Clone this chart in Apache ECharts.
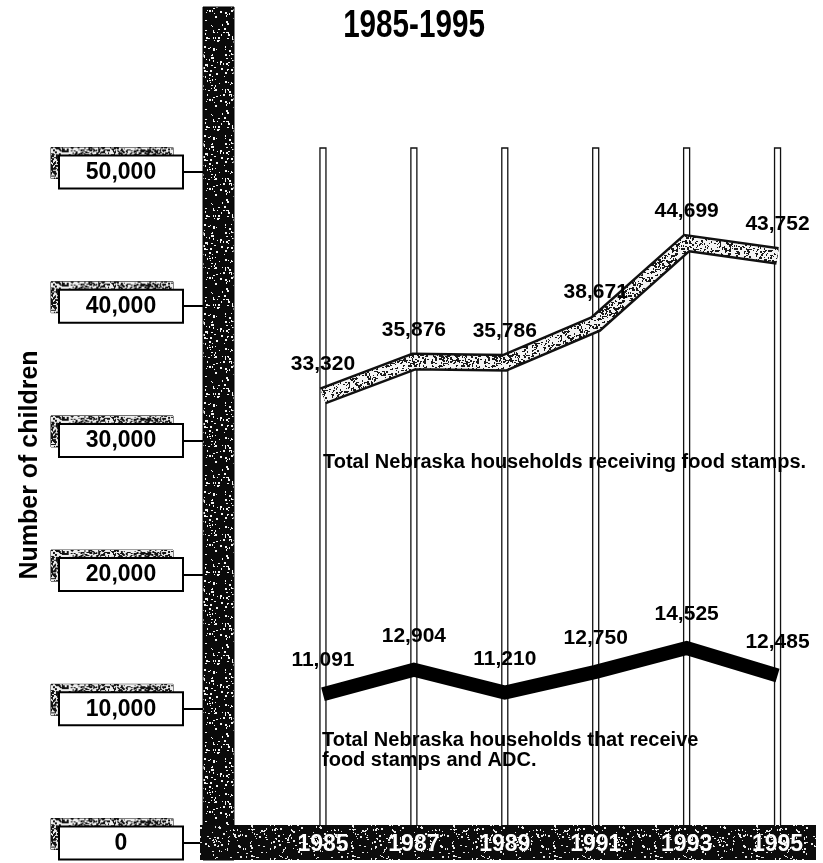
<!DOCTYPE html>
<html>
<head>
<meta charset="utf-8">
<script src="https://cdn.jsdelivr.net/npm/echarts@6/dist/echarts.min.js"></script>
<style>
  html, body { margin: 0; padding: 0; background: #fff; }
  #chart { width: 823px; height: 863px; }
</style>
</head>
<body>
<div id="chart"></div>
<script>
// Children in Nebraska households on public assistance, 1985-1995
const years = ['1985', '1987', '1989', '1991', '1993', '1995'];
const foodStamps = [33320, 35876, 35786, 38671, 44699, 43752];
const foodStampsAdc = [11091, 12904, 11210, 12750, 14525, 12485];

const titleText = '1985-1995';
const yAxisTitle = 'Number of children';
const foodNote = 'Total Nebraska households receiving food stamps.';
const adcNote = 'Total Nebraska households that receive\nfood stamps and ADC.';

const SANS = '"Liberation Sans", Arial, Helvetica, sans-serif';

// Grainy print texture: a small canvas filled with a base tone and scattered dots
function speckle(w, h, base, dot, density, seed) {
  const c = document.createElement('canvas');
  c.width = w; c.height = h;
  const ctx = c.getContext('2d');
  ctx.fillStyle = base;
  ctx.fillRect(0, 0, w, h);
  ctx.fillStyle = dot;
  let s = seed >>> 0;
  const next = () => { s = (Math.imul(s, 1664525) + 1013904223) >>> 0; return s >>> 12; };
  const n = Math.round(w * h * density);
  for (let i = 0; i < n; i++) {
    const x = next() % w;
    const y = next() % h;
    const k = next();
    ctx.fillRect(x, y, 1 + (k & 1), 1 + ((k >> 3) & 1));
  }
  return c;
}

const columnTex = speckle(97, 89, '#0a0a0a', '#f4f4f4', 0.045, 7);
const bandTex = speckle(101, 34, '#0c0c0c', '#e8e8e8', 0.05, 11);
const lineTex = speckle(53, 47, '#f4f4f4', '#1a1a1a', 0.18, 23);
const shadowTex = speckle(124, 32, '#eeeeee', '#111', 0.30, 5);

const fmt = v => Number(v).toLocaleString('en-US');

const chart = echarts.init(document.getElementById('chart'), null, { renderer: 'canvas' });

// invisible point markers so that value labels sit on each vertex
const hiddenPoint = { symbol: 'circle', symbolSize: 2, itemStyle: { color: 'rgba(0,0,0,0)' } };

const valueLabel = {
  show: true, position: 'top', formatter: p => fmt(p.value),
  color: '#000', fontFamily: SANS, fontSize: 21, fontWeight: 'bold'
};

const option = {
  animation: false,
  backgroundColor: '#fff',
  textStyle: { fontFamily: SANS },
  grid: [
    { left: 277.5, right: 0, top: 172, bottom: 20 },
    { left: 277.5, right: 0, top: 163, bottom: 29 }
  ],
  xAxis: [
    {
      type: 'category', gridIndex: 0, data: years, boundaryGap: true, z: 20,
      axisLine: { show: false }, axisTick: { show: false }, splitLine: { show: false },
      axisLabel: {
        color: '#fff', fontFamily: SANS, fontSize: 23, fontWeight: 'bold',
        verticalAlign: 'middle', margin: 2
      }
    },
    { type: 'category', gridIndex: 1, data: years, show: false }
  ],
  yAxis: [
    {
      type: 'value', gridIndex: 0, min: 0, max: 50000, interval: 10000,
      position: 'left', offset: 59.5, z: 3,
      axisLine: { show: false },
      splitLine: { show: false },
      axisTick: { show: true, length: 36, lineStyle: { color: '#000', width: 2 } },
      axisLabel: {
        margin: 36,
        formatter: v => '{v|' + fmt(v) + '}',
        backgroundColor: '#fff', borderColor: '#000', borderWidth: 2,
        padding: [3, 2, 2, 2],
        rich: {
          v: { width: 118, align: 'center', fontSize: 23, fontWeight: 'bold',
               fontFamily: SANS, color: '#000', lineHeight: 26 }
        }
      }
    },
    {
      // offset copies of the tick boxes, drawn as grainy backing plates
      type: 'value', gridIndex: 1, min: 0, max: 50000, interval: 10000,
      position: 'left', offset: 68.5, z: 1,
      axisLine: { show: false }, splitLine: { show: false }, axisTick: { show: false },
      axisLabel: {
        margin: 36,
        formatter: v => '{v|' + fmt(v) + '}',
        backgroundColor: { image: shadowTex }, borderColor: '#111', borderWidth: 1,
        padding: [3, 2, 2, 2],
        rich: {
          v: { width: 118, align: 'center', fontSize: 23, fontWeight: 'bold',
               fontFamily: SANS, color: 'rgba(0,0,0,0)', lineHeight: 26 }
        }
      }
    }
  ],
  series: [
    {
      // hollow year posts rising from the base band
      type: 'custom', xAxisIndex: 0, yAxisIndex: 0, z: 1, silent: true,
      data: years.map(y => [y]),
      encode: { x: 0 },
      renderItem: (params, api) => {
        const x = api.coord([api.value(0), 0])[0];
        const cs = params.coordSys;
        return {
          type: 'rect',
          shape: { x: x - 3, y: cs.y - 24, width: 6, height: cs.height + 24 },
          style: { fill: '#fff', stroke: '#111', lineWidth: 1.3 }
        };
      }
    },
    Object.assign({
      name: 'food stamps outline', type: 'line', xAxisIndex: 0, yAxisIndex: 0, z: 3,
      data: foodStamps, silent: true,
      lineStyle: { color: '#111', width: 18, cap: 'butt', join: 'miter' },
      emphasis: { disabled: true }
    }, hiddenPoint),
    Object.assign({
      name: 'food stamps', type: 'line', xAxisIndex: 0, yAxisIndex: 0, z: 4,
      data: foodStamps, silent: true,
      lineStyle: { color: { image: lineTex, repeat: 'repeat' }, width: 13, cap: 'butt', join: 'miter' },
      emphasis: { disabled: true },
      label: Object.assign({ distance: 20 }, valueLabel)
    }, hiddenPoint),
    Object.assign({
      name: 'food stamps and ADC', type: 'line', xAxisIndex: 0, yAxisIndex: 0, z: 4,
      data: foodStampsAdc, silent: true,
      lineStyle: { color: '#000', width: 14, cap: 'butt', join: 'miter' },
      emphasis: { disabled: true },
      label: Object.assign({ distance: 22 }, valueLabel)
    }, hiddenPoint)
  ],
  graphic: [
    {
      type: 'text', z: 8, silent: true,
      x: 414, y: 27, scaleX: 0.78,
      style: {
        text: titleText, fill: '#000', font: 'bold 38px ' + SANS,
        textAlign: 'center', textVerticalAlign: 'middle'
      }
    },
    {
      // vertical value column
      type: 'rect', z: 6, silent: true,
      shape: { x: 203, y: 7, width: 31, height: 853 },
      style: { fill: { image: columnTex, repeat: 'repeat' }, stroke: '#000', lineWidth: 1 }
    },
    {
      // base band carrying the year labels
      type: 'rect', z: 6, silent: true,
      shape: { x: 200, y: 825, width: 616, height: 35 },
      style: { fill: { image: bandTex, repeat: 'repeat' } }
    },
    {
      type: 'text', z: 8, silent: true,
      x: 30, y: 465, rotation: Math.PI / 2,
      style: {
        text: yAxisTitle, fill: '#000', font: 'bold 25px ' + SANS,
        textAlign: 'center', textVerticalAlign: 'middle'
      }
    },
    {
      type: 'text', z: 8, silent: true,
      x: 323, y: 462,
      style: {
        text: foodNote, fill: '#000', font: 'bold 20px ' + SANS,
        textAlign: 'left', textVerticalAlign: 'middle'
      }
    },
    {
      type: 'text', z: 8, silent: true,
      x: 322, y: 730,
      style: {
        text: adcNote, fill: '#000', font: 'bold 20px ' + SANS, lineHeight: 20,
        textAlign: 'left', textVerticalAlign: 'top'
      }
    }
  ]
};

chart.setOption(option);
</script>
</body>
</html>
